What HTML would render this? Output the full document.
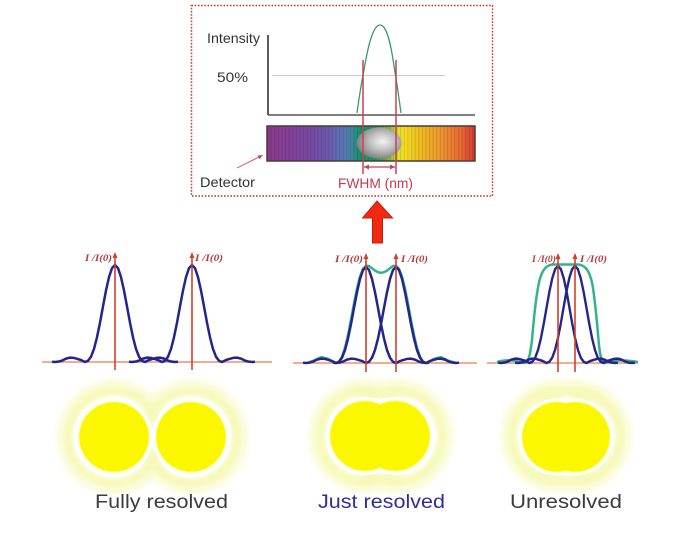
<!DOCTYPE html>
<html>
<head>
<meta charset="utf-8">
<style>
  html,body{margin:0;padding:0;background:#fff;}
  body{width:700px;height:542px;overflow:hidden;}
  svg{display:block;}
  .lbl{font-family:"Liberation Serif",serif;font-style:italic;font-weight:bold;font-size:9px;fill:#b23a3a;}
</style>
</head>
<body>
<svg width="700" height="542" viewBox="0 0 700 542" xmlns="http://www.w3.org/2000/svg">
  <defs>
    <linearGradient id="spec" x1="0" y1="0" x2="1" y2="0">
      <stop offset="0" stop-color="#8b3a8c"/>
      <stop offset="0.11" stop-color="#85419a"/>
      <stop offset="0.21" stop-color="#7a4aa5"/>
      <stop offset="0.30" stop-color="#6a5cb0"/>
      <stop offset="0.375" stop-color="#5a78b5"/>
      <stop offset="0.41" stop-color="#3a8a9a"/>
      <stop offset="0.44" stop-color="#1a9070"/>
      <stop offset="0.52" stop-color="#1e9a5a"/>
      <stop offset="0.59" stop-color="#8ab83a"/>
      <stop offset="0.63" stop-color="#e0e030"/>
      <stop offset="0.66" stop-color="#f5e020"/>
      <stop offset="0.73" stop-color="#f0c020"/>
      <stop offset="0.83" stop-color="#ee9a30"/>
      <stop offset="0.93" stop-color="#e86a30"/>
      <stop offset="1" stop-color="#d83a35"/>
    </linearGradient>
    <pattern id="stripes" x="267" y="0" width="3.6" height="10" patternUnits="userSpaceOnUse">
      <rect x="0" y="0" width="1.1" height="10" fill="rgba(0,0,0,0.13)"/>
    </pattern>
    <radialGradient id="ball" cx="0.58" cy="0.45" r="0.6">
      <stop offset="0" stop-color="#f4f4f4"/>
      <stop offset="0.5" stop-color="#bdbdbd"/>
      <stop offset="1" stop-color="#7a7a7a"/>
    </radialGradient>
    <filter id="blur" x="-30%" y="-30%" width="160%" height="160%">
      <feGaussianBlur stdDeviation="1.6"/>
    </filter>
    <filter id="blur2" x="-30%" y="-30%" width="160%" height="160%">
      <feGaussianBlur stdDeviation="3"/>
    </filter>
    <filter id="soft" x="-10%" y="-10%" width="120%" height="120%">
      <feGaussianBlur stdDeviation="0.5"/>
    </filter>
    <path id="pk" fill="none" d="M-63,-0.3 L-60,0 L-56,-0.5 L-52.5,-1.6 L-49,-3.4 L-45,-4.4 L-41,-4.1 L-37.5,-3.1 L-34,-2 L-30,0 L-27,-1.2 L-24,-5.3 L-21,-13.1 L-18,-24.7 L-15,-39.3 L-12,-55.6 L-9,-71.5 L-6,-84.9 L-3,-93.9 L0,-97 L3,-93.9 L6,-84.9 L9,-71.5 L12,-55.6 L15,-39.3 L18,-24.7 L21,-13.1 L24,-5.3 L27,-1.2 L30,0 L34,-2 L37.5,-3.1 L41,-4.1 L45,-4.4 L49,-3.4 L52.5,-1.6 L56,-0.5 L60,0 L63,-0.3"/>
  </defs>

  <rect x="191.5" y="5.5" width="301" height="190.5" fill="#fff" stroke="#c0392b" stroke-width="1.5" stroke-dasharray="1.6 1.6"/>

  <text x="207" y="43" font-family="Liberation Sans, sans-serif" font-size="14" fill="#333" textLength="53" lengthAdjust="spacingAndGlyphs">Intensity</text>
  <text x="217" y="82" font-family="Liberation Sans, sans-serif" font-size="14" fill="#333" textLength="31" lengthAdjust="spacingAndGlyphs">50%</text>

  <line x1="272" y1="75.5" x2="445" y2="75.5" stroke="#cfcfcf" stroke-width="1"/>
  <line x1="268" y1="35" x2="268" y2="115" stroke="#333" stroke-width="1.6"/>
  <line x1="268" y1="115" x2="475" y2="115" stroke="#555" stroke-width="1.6"/>

  <path d="M357,113 C359,98 361,85 364,70 C368,46 373,25 380,25 C387,25 391,45 394,66 C397,84 399,98 401,113" fill="none" stroke="#3a9a6e" stroke-width="1.3"/>

  <rect x="267" y="126" width="208" height="35" fill="url(#spec)"/>
  <rect x="267" y="126" width="208" height="35" fill="url(#stripes)"/>
  <rect x="267" y="126" width="208" height="35" fill="none" stroke="#4a3a3a" stroke-width="1.5"/>

  <ellipse cx="379" cy="143" rx="22.5" ry="15.5" fill="url(#ball)"/>

  <line x1="363" y1="60" x2="363" y2="174" stroke="#c8404e" stroke-width="1.5"/>
  <line x1="396" y1="60" x2="396" y2="174" stroke="#c8404e" stroke-width="1.5"/>
  <line x1="364" y1="167" x2="395" y2="167" stroke="#c8404e" stroke-width="1.2"/>
  <path d="M364,167 L369,164.5 L369,169.5 Z" fill="#c8404e"/>
  <path d="M395,167 L390,164.5 L390,169.5 Z" fill="#c8404e"/>
  <text x="338" y="188" font-family="Liberation Sans, sans-serif" font-size="14" fill="#c23a4e" textLength="75" lengthAdjust="spacingAndGlyphs">FWHM (nm)</text>

  <text x="200" y="187" font-family="Liberation Sans, sans-serif" font-size="14" fill="#333" textLength="55" lengthAdjust="spacingAndGlyphs">Detector</text>
  <line x1="237" y1="168" x2="261" y2="156" stroke="#d04050" stroke-width="0.9"/>
  <path d="M263,155 L257.5,155.6 L259.5,159.3 Z" fill="#d04050"/>

  <path d="M377,201 L392.5,218 L382.5,218 L382.5,243 L372.5,243 L372.5,218 L362.5,218 Z" fill="#f02a12" stroke="#c81a10" stroke-width="1"/>

  <line x1="42" y1="362" x2="272" y2="362" stroke="#e8946a" stroke-width="1.5"/>
  <line x1="293" y1="363" x2="477" y2="363" stroke="#e8946a" stroke-width="1.5"/>
  <line x1="487" y1="363" x2="638" y2="363" stroke="#e8946a" stroke-width="1.5"/>

  <use href="#pk" transform="translate(115,362)" stroke="#24248c" stroke-width="2.5" stroke-linejoin="round"/>
  <use href="#pk" transform="translate(192,362)" stroke="#24248c" stroke-width="2.5" stroke-linejoin="round"/>

  <path d="M309,362.3 L313.5,360.7 L321,357.1 L328.5,359 L333,362 L336,363 L339,361.6 L342,356.7 L345,347.8 L348,335.1 L351,319.8 L354,303.5 L357,288.5 L360,276.6 L363,268.9 L366,265.8 L369,266 L372,268.2 L375,270.6 L378,272.2 L381,272.8 L384,272.2 L387,270.6 L390,268.2 L393,266 L396,265.8 L399,268.9 L402,276.6 L405,288.5 L408,303.5 L411,319.8 L414,335.1 L417,347.8 L420,356.7 L423,361.6 L426,363 L429,362 L433.5,359 L441,357.1 L448.5,360.7 L456,363" fill="none" stroke="#33b38c" stroke-width="2.5" stroke-linejoin="round"/>
  <use href="#pk" transform="translate(366,363) scale(1,0.99)" stroke="#24248c" stroke-width="2.5" stroke-linejoin="round"/>
  <use href="#pk" transform="translate(396,363) scale(1,0.99)" stroke="#24248c" stroke-width="2.5" stroke-linejoin="round"/>

  <path d="M497,362 C504,360 511,359.5 518,361.5 L525,363 C529,362 530.5,352 532,340 C533.5,322 535.5,300 538.5,285 C541,272 545,265 553,264.5 L578,264.5 C586,265 590,272 592.5,285 C595,300 597,322 598.5,340 C599.5,352 601,362 605,363 L612,361.5 C619,359.5 627,360 638,362" fill="none" stroke="#33b38c" stroke-width="2.5" stroke-linejoin="round"/>
  <use href="#pk" transform="translate(558,363) scale(0.95,1)" stroke="#24248c" stroke-width="2.5" stroke-linejoin="round"/>
  <use href="#pk" transform="translate(575,363) scale(0.95,1)" stroke="#24248c" stroke-width="2.5" stroke-linejoin="round"/>

  <g stroke="#d0402a" stroke-width="1.6">
    <line x1="115" y1="255" x2="115" y2="370"/>
    <line x1="192" y1="255" x2="192" y2="370"/>
    <line x1="366" y1="256" x2="366" y2="372"/>
    <line x1="396" y1="256" x2="396" y2="372"/>
    <line x1="558" y1="256" x2="558" y2="372"/>
    <line x1="575" y1="256" x2="575" y2="372"/>
  </g>
  <g fill="#d0402a">
    <path d="M115,252 L117.5,258 L112.5,258 Z"/>
    <path d="M192,252 L194.5,258 L189.5,258 Z"/>
    <path d="M366,253 L368.5,259 L363.5,259 Z"/>
    <path d="M396,253 L398.5,259 L393.5,259 Z"/>
    <path d="M558,253 L560.5,259 L555.5,259 Z"/>
    <path d="M575,253 L577.5,259 L572.5,259 Z"/>
  </g>

  <text class="lbl" x="85" y="261" textLength="27" lengthAdjust="spacingAndGlyphs">I /I(0)</text>
  <text class="lbl" x="195" y="261" textLength="28" lengthAdjust="spacingAndGlyphs">I /I(0)</text>
  <text class="lbl" x="335" y="262" textLength="28" lengthAdjust="spacingAndGlyphs">I /I(0)</text>
  <text class="lbl" x="401" y="262" textLength="27" lengthAdjust="spacingAndGlyphs">I /I(0)</text>
  <text class="lbl" x="532" y="262" textLength="24" lengthAdjust="spacingAndGlyphs">I /I(0)</text>
  <text class="lbl" x="580" y="262" textLength="27" lengthAdjust="spacingAndGlyphs">I /I(0)</text>

  <!-- outer halo -->
  <g fill="none" stroke="#f8fac8" stroke-width="10" opacity="0.75" filter="url(#blur2)">
    <circle cx="114" cy="437" r="52"/>
    <circle cx="191" cy="437" r="52"/>
    <circle cx="366" cy="436" r="52"/>
    <circle cx="396" cy="436" r="52"/>
    <circle cx="557" cy="436" r="51"/>
    <circle cx="575" cy="436" r="51"/>
  </g>
  <!-- ring core -->
  <g fill="none" stroke="#f6f9b4" stroke-width="9" opacity="0.85" filter="url(#blur)">
    <circle cx="114" cy="437" r="45.5"/>
    <circle cx="191" cy="437" r="45.5"/>
    <circle cx="366" cy="436" r="45.5"/>
    <circle cx="396" cy="436" r="45.5"/>
    <circle cx="557" cy="436" r="45"/>
    <circle cx="575" cy="436" r="45"/>
  </g>
  <!-- white gap -->
  <g fill="#fff">
    <circle cx="114" cy="437" r="39"/>
    <circle cx="191" cy="437" r="39"/>
    <circle cx="365" cy="436" r="39"/>
    <circle cx="395" cy="436" r="39"/>
    <circle cx="557" cy="437" r="38.5"/>
    <circle cx="575" cy="437" r="38.5"/>
  </g>
  <g fill="#fbf700" filter="url(#soft)">
    <circle cx="114" cy="437" r="35"/>
    <circle cx="191" cy="437" r="35"/>
    <circle cx="365" cy="436" r="35"/>
    <circle cx="395" cy="436" r="35"/>
    <circle cx="557" cy="437" r="35"/>
    <circle cx="575" cy="437" r="35"/>
  </g>

  <text x="95" y="508" font-family="Liberation Sans, sans-serif" font-size="19.5" fill="#3c3c3c" textLength="133" lengthAdjust="spacingAndGlyphs">Fully resolved</text>
  <text x="318" y="508" font-family="Liberation Sans, sans-serif" font-size="19.5" fill="#2e2e9c" textLength="127" lengthAdjust="spacingAndGlyphs">Just resolved</text>
  <text x="510" y="508" font-family="Liberation Sans, sans-serif" font-size="19.5" fill="#3c3c3c" textLength="112" lengthAdjust="spacingAndGlyphs">Unresolved</text>
</svg>
</body>
</html>
